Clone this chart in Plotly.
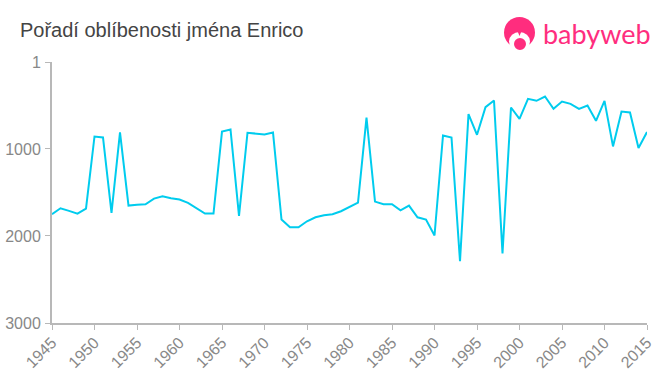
import plotly.graph_objects as go

years = list(range(1945, 2016))
ranks = [1750, 1682, 1712, 1743, 1686, 857, 868, 1735, 810, 1651,
         1640, 1636, 1571, 1544, 1567, 1582, 1620, 1682, 1743, 1743,
         800, 776, 1770, 814, 826, 834, 810, 1812, 1900, 1900,
         1831, 1785, 1762, 1750, 1716, 1667, 1617, 640, 1605, 1636,
         1636, 1705, 1651, 1785, 1812, 1995, 845, 868, 2290, 600,
         837, 520, 444, 2200, 524, 654, 424, 447, 398, 539,
         455, 482, 539, 501, 677, 447, 971, 570, 581, 990, 806]
x_ticks = list(range(1945, 2016, 5))
y_ticks = [1, 1000, 2000, 3000]
title_text = "Pořadí oblíbenosti jména Enrico"
brand = "babyweb"

W, H = 660, 375
L, R, T, B = 52, 647, 62, 323.5
PINK = "#ff2d7e"
def px(x): return (x - L) / (R - L)
def py(y): return (B - y) / (B - T)

fig = go.Figure(go.Scatter(x=years, y=ranks, mode="lines",
                           line=dict(color="#00ccee", width=2), hoverinfo="skip"))

axis_font = dict(family="Liberation Sans, Arial, sans-serif", size=16, color="#888888")
fig.update_layout(
    width=W, height=H, autosize=False,
    margin=dict(l=L, r=W - R, t=T, b=H - B, pad=0),
    paper_bgcolor="white", plot_bgcolor="white", showlegend=False,
    title=dict(text=title_text, x=20 / W, xanchor="left", y=1 - 30 / H, yanchor="middle",
               font=dict(family="Liberation Sans, Arial, sans-serif", size=20, color="#444444")),
    xaxis=dict(range=[1945, 2015], tickmode="array", tickvals=x_ticks, ticktext=[str(v) for v in x_ticks],
               tickangle=-45, ticks="outside", ticklen=5, tickwidth=1, tickcolor="#b8b8b8", ticklabelstandoff=-3,
               showline=True, linecolor="#b8b8b8", linewidth=2, showgrid=False, zeroline=False,
               automargin=False, tickfont=axis_font),
    yaxis=dict(range=[3000, 1], tickmode="array", tickvals=y_ticks, ticktext=[str(v) for v in y_ticks],
               ticks="outside", ticklen=5, tickwidth=1, tickcolor="#b8b8b8", ticklabelstandoff=1,
               showline=True, linecolor="#b8b8b8", linewidth=2, showgrid=False, zeroline=False,
               automargin=False, tickfont=axis_font),
    shapes=[
        dict(type="circle", xref="paper", yref="paper", x0=px(504), x1=px(535), y0=py(48), y1=py(17),
             fillcolor=PINK, line_width=0),
        dict(type="circle", xref="paper", yref="paper", x0=px(509), x1=px(530), y0=py(51), y1=py(32),
             fillcolor="white", line_width=0),
        dict(type="path", xref="paper", yref="paper",
             path=f"M {px(517)} {py(30)} L {px(522)} {py(30)} L {px(519.5)} {py(36)} Z",
             fillcolor=PINK, line_width=0),
        dict(type="circle", xref="paper", yref="paper", x0=px(514), x1=px(526), y0=py(50), y1=py(38),
             fillcolor=PINK, line_width=0),
    ],
    annotations=[dict(text=brand, x=px(540.5), y=py(33), xref="paper", yref="paper", xanchor="left", yanchor="middle",
                      showarrow=False, font=dict(family="Lato, Roboto, sans-serif", size=27, color=PINK))],
)
fig.write_html("out.html", config={"displayModeBar": False},
               post_script="document.body.style.margin='0';window.dispatchEvent(new Event('resize'));")
